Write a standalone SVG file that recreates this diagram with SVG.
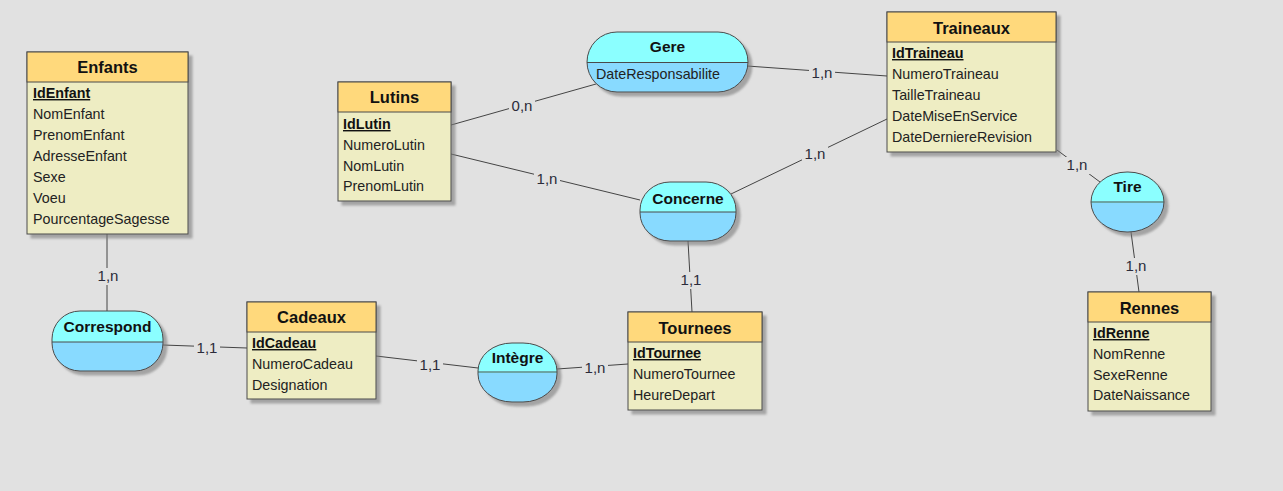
<svg xmlns="http://www.w3.org/2000/svg" width="1283" height="491" viewBox="0 0 1283 491">
<defs>
<filter id="sh" x="-10%" y="-10%" width="130%" height="130%">
<feDropShadow dx="4" dy="4" stdDeviation="1.2" flood-color="#7a7a7a" flood-opacity="0.6"/>
</filter>
<linearGradient id="ag" x1="0" y1="0" x2="0" y2="1">
<stop offset="0" stop-color="#8BFFFF"/>
<stop offset="0.51" stop-color="#8BFFFF"/>
<stop offset="0.51" stop-color="#88DAFF"/>
<stop offset="1" stop-color="#88DAFF"/>
</linearGradient>
<style>
.bx{fill:#EEEDC3;stroke:#4a4a4a;stroke-width:1}
.hd{fill:#FFD97C;stroke:#4a4a4a;stroke-width:1}
.as{fill:url(#ag);stroke:#4a4a4a;stroke-width:1}
.dv{stroke:#4a4a4a;stroke-width:1}
.t{font-family:"Liberation Sans",Arial,sans-serif;font-weight:bold;font-size:16.5px;fill:#111;text-anchor:middle}
.at{font-family:"Liberation Sans",Arial,sans-serif;font-size:14.3px;fill:#222}
.id{font-family:"Liberation Sans",Arial,sans-serif;font-size:14.3px;font-weight:bold;fill:#111;text-decoration:underline}
.ln{stroke:#444;stroke-width:1;fill:none}
.bg{fill:#E1E1E1}
.lb{font-family:"Liberation Sans",Arial,sans-serif;font-size:15px;fill:#2b2b3a;text-anchor:middle}
</style>
</defs>
<rect width="1283" height="491" fill="#E1E1E1"/>

<g id="connectors">
<line class="ln" x1="107" y1="234" x2="107" y2="311"/>
<line class="ln" x1="163" y1="345" x2="247" y2="348"/>
<line class="ln" x1="376" y1="356" x2="478" y2="368"/>
<line class="ln" x1="557" y1="369" x2="628" y2="364"/>
<line class="ln" x1="692" y1="312" x2="688" y2="241"/>
<line class="ln" x1="451" y1="154" x2="640" y2="200"/>
<line class="ln" x1="451" y1="125" x2="596" y2="84"/>
<line class="ln" x1="747" y1="66" x2="887" y2="76"/>
<line class="ln" x1="731" y1="194" x2="887" y2="119"/>
<line class="ln" x1="1057" y1="150" x2="1100" y2="182"/>
<line class="ln" x1="1131" y1="232" x2="1139" y2="292"/>
<rect class="bg" x="95" y="268" width="26" height="17"/>
<rect class="bg" x="194" y="340" width="26" height="17"/>
<rect class="bg" x="417" y="357" width="26" height="17"/>
<rect class="bg" x="582" y="360" width="26" height="17"/>
<rect class="bg" x="678" y="272" width="26" height="17"/>
<rect class="bg" x="534" y="171" width="26" height="17"/>
<rect class="bg" x="509" y="98" width="26" height="17"/>
<rect class="bg" x="809" y="65" width="26" height="17"/>
<rect class="bg" x="802" y="146" width="26" height="17"/>
<rect class="bg" x="1064" y="157" width="26" height="17"/>
<rect class="bg" x="1123" y="258" width="26" height="17"/>
<text class="lb" x="108" y="281">1,n</text>
<text class="lb" x="207" y="353">1,1</text>
<text class="lb" x="430" y="370">1,1</text>
<text class="lb" x="595" y="373">1,n</text>
<text class="lb" x="691" y="285">1,1</text>
<text class="lb" x="547" y="184">1,n</text>
<text class="lb" x="522" y="111">0,n</text>
<text class="lb" x="822" y="78">1,n</text>
<text class="lb" x="815" y="159">1,n</text>
<text class="lb" x="1077" y="170">1,n</text>
<text class="lb" x="1136" y="271">1,n</text>
</g>

<g id="Enfants">
<rect class="bx" x="27" y="52" width="161" height="182" filter="url(#sh)"/>
<rect class="hd" x="27" y="52" width="161" height="30"/>
<text class="t" x="107.5" y="73">Enfants</text>
<text class="id" x="33" y="98">IdEnfant</text>
<text class="at" x="33" y="119">NomEnfant</text>
<text class="at" x="33" y="140">PrenomEnfant</text>
<text class="at" x="33" y="161">AdresseEnfant</text>
<text class="at" x="33" y="182">Sexe</text>
<text class="at" x="33" y="203">Voeu</text>
<text class="at" x="33" y="224">PourcentageSagesse</text>
</g>

<g id="Lutins">
<rect class="bx" x="338" y="82" width="113" height="119" filter="url(#sh)"/>
<rect class="hd" x="338" y="82" width="113" height="30"/>
<text class="t" x="394.5" y="103">Lutins</text>
<text class="id" x="343" y="129">IdLutin</text>
<text class="at" x="343" y="150">NumeroLutin</text>
<text class="at" x="343" y="171">NomLutin</text>
<text class="at" x="343" y="191">PrenomLutin</text>
</g>

<g id="Traineaux">
<rect class="bx" x="887" y="12" width="169" height="140" filter="url(#sh)"/>
<rect class="hd" x="887" y="12" width="169" height="30"/>
<text class="t" x="971.5" y="34">Traineaux</text>
<text class="id" x="892" y="58">IdTraineau</text>
<text class="at" x="892" y="79">NumeroTraineau</text>
<text class="at" x="892" y="100">TailleTraineau</text>
<text class="at" x="892" y="121">DateMiseEnService</text>
<text class="at" x="892" y="142">DateDerniereRevision</text>
</g>

<g id="Cadeaux">
<rect class="bx" x="247" y="302" width="129" height="97" filter="url(#sh)"/>
<rect class="hd" x="247" y="302" width="129" height="30"/>
<text class="t" x="311.5" y="323">Cadeaux</text>
<text class="id" x="252" y="348">IdCadeau</text>
<text class="at" x="252" y="369">NumeroCadeau</text>
<text class="at" x="252" y="390">Designation</text>
</g>

<g id="Tournees">
<rect class="bx" x="628" y="312" width="134" height="98" filter="url(#sh)"/>
<rect class="hd" x="628" y="312" width="134" height="30"/>
<text class="t" x="695" y="334">Tournees</text>
<text class="id" x="633" y="358">IdTournee</text>
<text class="at" x="633" y="379">NumeroTournee</text>
<text class="at" x="633" y="400">HeureDepart</text>
</g>

<g id="Rennes">
<rect class="bx" x="1088" y="292" width="123" height="119" filter="url(#sh)"/>
<rect class="hd" x="1088" y="292" width="123" height="30"/>
<text class="t" x="1149.5" y="314">Rennes</text>
<text class="id" x="1093" y="338">IdRenne</text>
<text class="at" x="1093" y="359">NomRenne</text>
<text class="at" x="1093" y="380">SexeRenne</text>
<text class="at" x="1093" y="400">DateNaissance</text>
</g>

<g id="Gere">
<rect class="as" x="587" y="32" width="161" height="60" rx="30" ry="30" filter="url(#sh)"/>
<line class="dv" x1="587" y1="62.5" x2="748" y2="62.5"/>
<text class="t" x="667.5" y="52" style="font-size:15.5px">Gere</text>
<text class="at" x="596" y="79">DateResponsabilite</text>
</g>

<g id="Concerne">
<rect class="as" x="640" y="182" width="96" height="59" rx="30" ry="28" filter="url(#sh)"/>
<line class="dv" x1="640" y1="212" x2="736" y2="212"/>
<text class="t" x="688" y="204" style="font-size:15.5px">Concerne</text>
</g>

<g id="Correspond">
<rect class="as" x="52" y="311" width="111" height="60" rx="28" ry="28" filter="url(#sh)"/>
<line class="dv" x1="52" y1="342" x2="163" y2="342"/>
<text class="t" x="107.5" y="332" style="font-size:15.5px">Correspond</text>
</g>

<g id="Integre">
<rect class="as" x="478" y="343" width="79" height="59" rx="34" ry="28" filter="url(#sh)"/>
<line class="dv" x1="478" y1="372" x2="557" y2="372"/>
<text class="t" x="517.5" y="363" style="font-size:15.5px">Intègre</text>
</g>

<g id="Tire">
<rect class="as" x="1091" y="172" width="73" height="60" rx="36" ry="30" filter="url(#sh)"/>
<line class="dv" x1="1091" y1="202" x2="1164" y2="202"/>
<text class="t" x="1127.5" y="192" style="font-size:15.5px">Tire</text>
</g>
</svg>
